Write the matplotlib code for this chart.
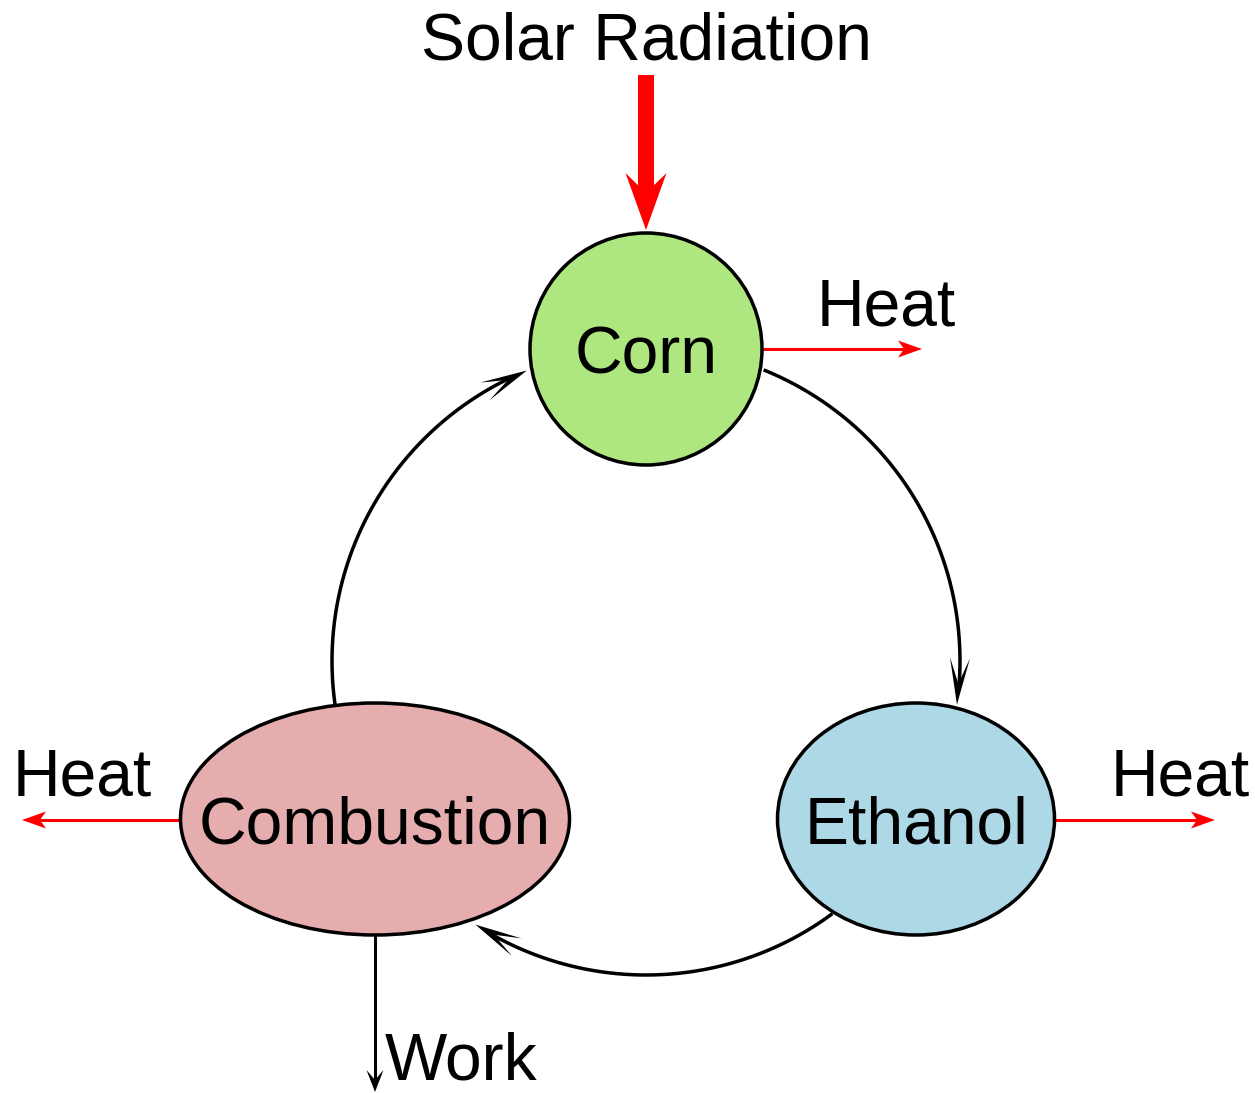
import numpy as np
import matplotlib.pyplot as plt
from matplotlib.patches import Ellipse, Polygon

# nodes of the cycle (pixel coordinates, y down)
node_names = ['Corn', 'Ethanol', 'Combustion']
node_x = [646, 916, 375]
node_y = [349, 819, 819]
node_w = [232, 277, 389]
node_h = [232, 232, 232]
node_colors = ['#aee680', '#add8e6', '#e5adad']

# cycle arcs on one big circle: start / end angle in degrees
cycle_cx, cycle_cy, cycle_r = 646, 661, 314
arc_start = [-68, 53.6, 172]
arc_end = [8, 122.9, 247.7]

# heat losses: start x, end x, y, label x, label baseline
heat_x0 = [764, 1057, 178]
heat_x1 = [922, 1215, 22]
heat_y = [349, 820, 820]
heat_lx = [886, 1180, 82]
heat_ly = [325, 796, 796]

FS = 47.5
FONT = ['Liberation Sans', 'DejaVu Sans']


def head(ax, tip, d, L, W, N, color):
    d = np.asarray(d, float)
    d = d / np.hypot(*d)
    n = np.array([-d[1], d[0]])
    tip = np.asarray(tip, float)
    pts = [tip, tip - L * d + W * n, tip - N * d, tip - L * d - W * n]
    ax.add_patch(Polygon(pts, closed=True, facecolor=color, edgecolor='none', zorder=4))


fig = plt.figure(figsize=(12.55, 10.93), dpi=100)
ax = fig.add_axes([0, 0, 1, 1])
ax.set_xlim(0, 1255)
ax.set_ylim(1093, 0)
ax.axis('off')

lw = 3.5 * 72 / 100

# cycle arcs
for a0, a1 in zip(arc_start, arc_end):
    t = np.radians(np.linspace(a0, a1, 200))
    x = cycle_cx + cycle_r * np.cos(t)
    y = cycle_cy + cycle_r * np.sin(t)
    L = 47
    tb = np.radians(a1) - L / cycle_r
    back = (cycle_cx + cycle_r * np.cos(tb), cycle_cy + cycle_r * np.sin(tb))
    keep = t <= np.radians(a1) - 20 / cycle_r
    ax.plot(x[keep], y[keep], color='black', lw=lw, solid_capstyle='butt', zorder=3)
    head(ax, (x[-1], y[-1]), (x[-1] - back[0], y[-1] - back[1]), L, 10, 21, 'black')

# nodes
for name, x, y, w, h, c in zip(node_names, node_x, node_y, node_w, node_h, node_colors):
    ax.add_patch(Ellipse((x, y), w, h, facecolor=c, edgecolor='black', lw=lw, zorder=5))
    ax.text(x, y + 25, name, ha='center', va='baseline', fontsize=FS, family=FONT, zorder=6)

# heat arrows
for x0, x1, y, lx, ly in zip(heat_x0, heat_x1, heat_y, heat_lx, heat_ly):
    s = np.sign(x1 - x0)
    ax.plot([x0, x1 - s * 18], [y, y], color='red', lw=3 * 72 / 100, zorder=3)
    head(ax, (x1, y), (s, 0), 24, 8.5, 18, 'red')
    ax.text(lx, ly, 'Heat', ha='center', va='baseline', fontsize=FS, family=FONT)

# solar radiation
ax.plot([646, 646], [75, 195], color='red', lw=16 * 72 / 100, solid_capstyle='butt', zorder=3)
head(ax, (646, 230), (0, 1), 57, 20.5, 37, 'red')
ax.text(646, 59, 'Solar Radiation', ha='center', va='baseline', fontsize=FS, family=FONT)

# work
ax.plot([375, 375], [936, 1080], color='black', lw=3 * 72 / 100, zorder=3)
head(ax, (375, 1092), (0, 1), 22, 8.5, 12, 'black')
ax.text(385, 1079, 'Work', ha='left', va='baseline', fontsize=FS, family=FONT)

fig.savefig('out.png', dpi=100)
